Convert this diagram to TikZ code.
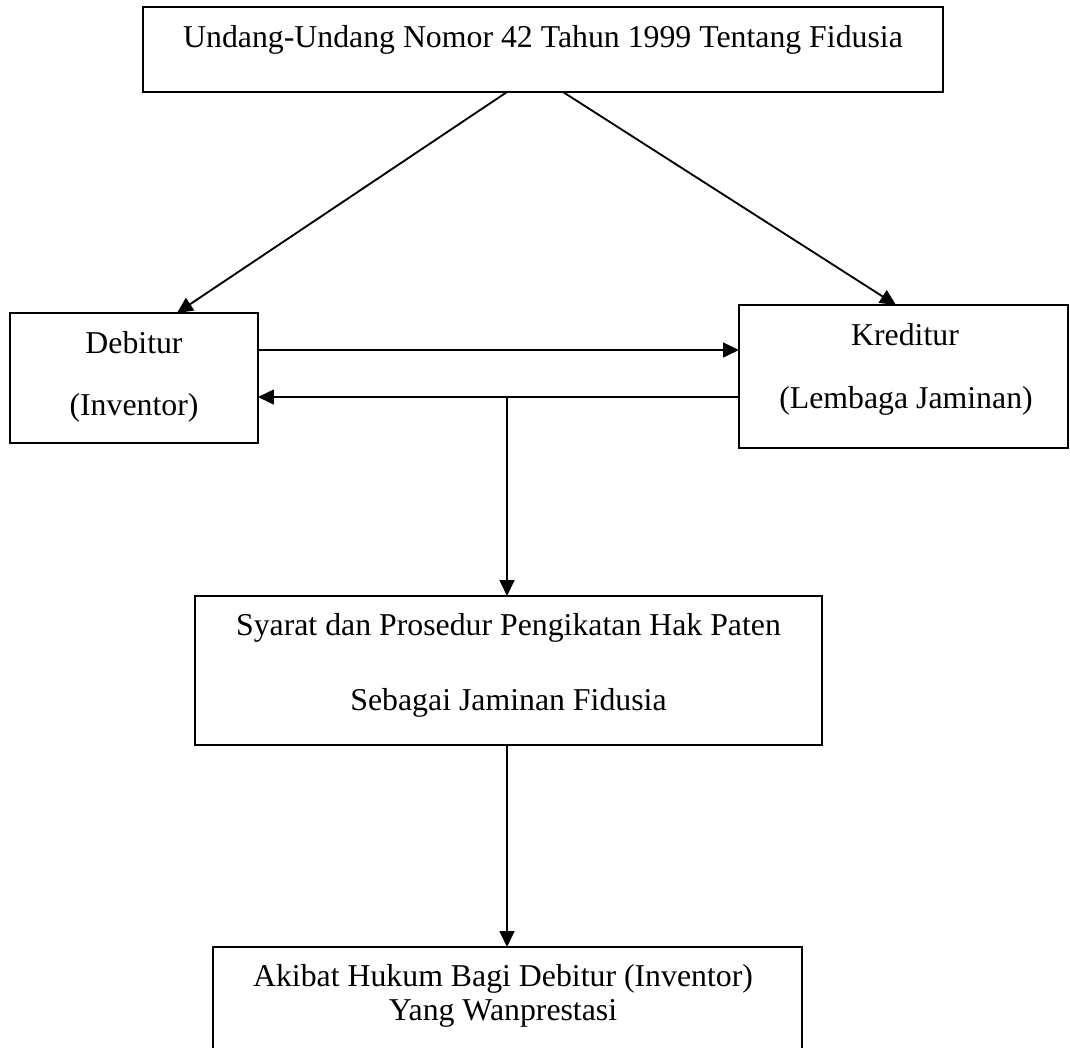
\documentclass[tikz,border=0pt]{standalone}
\usepackage{fontspec}
\setmainfont{Liberation Serif}
\usetikzlibrary{arrows.meta,calc}
\begin{document}
\begin{tikzpicture}[x=0.3774pt,y=-0.3774pt,
  box/.style={draw,line width=0.75pt,inner sep=0pt,outer sep=0pt},
  lbl/.style={anchor=base,inner sep=0pt,font=\fontsize{12}{14}\selectfont},
  conn/.style={line width=0.7pt,-{Triangle[length=6pt,width=5.6pt]}}]
\useasboundingbox (0,0) rectangle (1070,1047);
\clip (0,0) rectangle (1070,1047);
% boxes
\node[box,minimum width=301.9pt,minimum height=32.08pt] (uu) at (543,49.5) {};
\node[box,minimum width=93.6pt,minimum height=49.06pt] (deb) at (134,378) {};
\node[box,minimum width=124.2pt,minimum height=53.97pt] (kre) at (903.5,376.5) {};
\node[box,minimum width=236.6pt,minimum height=56.23pt] (b3) at (508.5,670.5) {};
\node[box,minimum width=222.3pt,minimum height=65.3pt] (b4) at (507.5,1033.5) {};
% texts
\node[lbl] (tuu) at (543,47) {Undang-Undang Nomor 42 Tahun 1999 Tentang Fidusia};
\node[lbl] (tdeb1) at (134,353) {Debitur};
\node[lbl] (tdeb2) at (134,415) {(Inventor)};
\node[lbl] (tkre1) at (905,345) {Kreditur};
\node[lbl] (tkre2) at (906,408) {(Lembaga Jaminan)};
\node[lbl] (ts1) at (508.5,635) {Syarat dan Prosedur Pengikatan Hak Paten};
\node[lbl] (ts2) at (508.5,710) {Sebagai Jaminan Fidusia};
\node[lbl] (ta1) at (503,986) {Akibat Hukum Bagi Debitur (Inventor)};
\node[lbl] (ta2) at (503,1020) {Yang Wanprestasi};
% connectors
\draw[conn] ([xshift=-13.59pt]uu.south) -- ([xshift=16.2pt]deb.north);
\draw[conn] ([xshift=7.55pt]uu.south) -- ([xshift=-2.83pt]kre.north);
\draw[conn] ([yshift=10.57pt]deb.east) -- ([yshift=10.0pt]kre.west);
\draw[conn] ([yshift=-7.74pt]kre.west) -- ([yshift=-7.17pt]deb.east);
\coordinate (j) at (507,397);
\draw[conn] (j) -- (j |- b3.north);
\draw[conn] (b3.south -| j) -- (b4.north -| j);
\end{tikzpicture}
\end{document}
